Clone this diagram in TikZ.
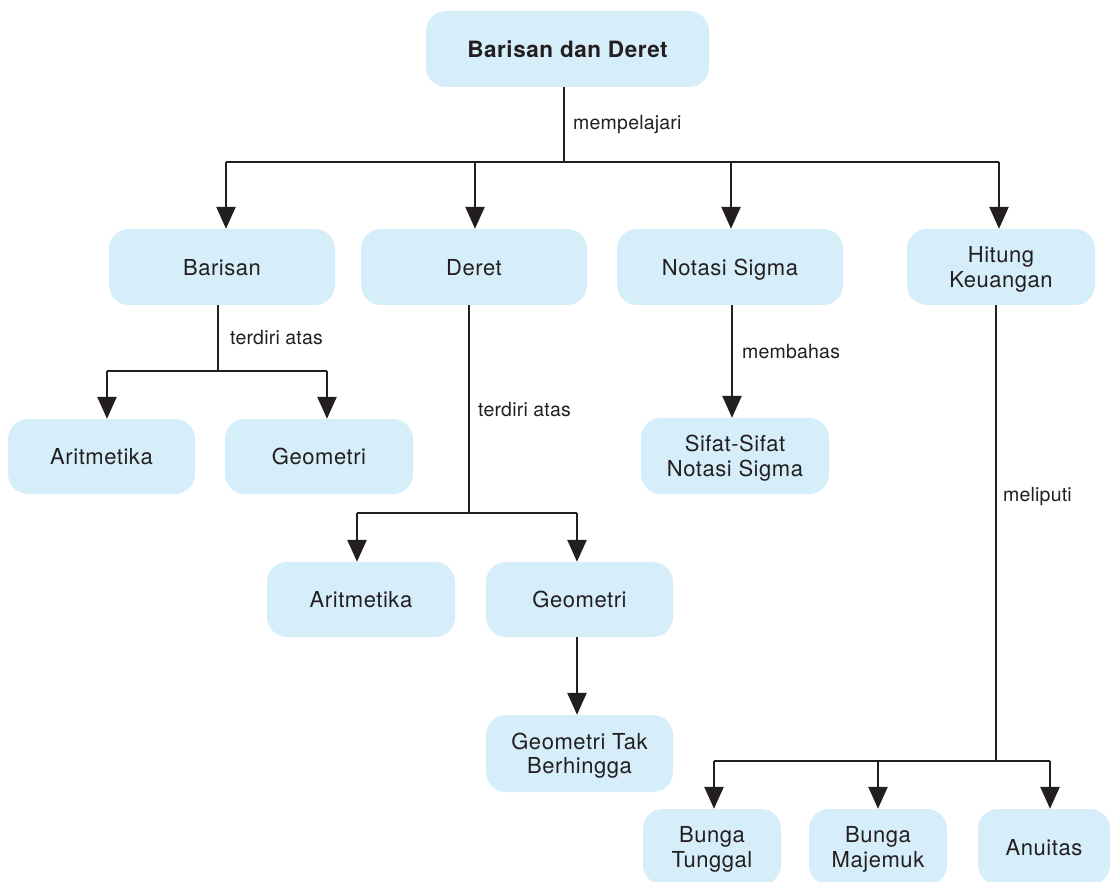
\documentclass[tikz,border=0pt]{standalone}
\usepackage{fontspec}
\setmainfont{TeX Gyre Heros}[LetterSpace=2.5]
\newfontfamily\lblfont{TeX Gyre Heros}[LetterSpace=1]
\usetikzlibrary{arrows.meta}
\definecolor{boxfill}{HTML}{D6EDFA}
\definecolor{ink}{HTML}{231F20}
\tikzset{
  box/.style={fill=boxfill, rounded corners=20pt, draw=none, inner sep=0pt,
    text=ink, align=center, text depth=0pt, font=\fontsize{22}{24.5}\selectfont},
  conn/.style={draw=ink, line width=2.6pt},
  arr/.style={conn, -{Triangle[length=22pt,width=19pt]}},
  lbl/.style={text=ink, anchor=west, inner sep=0pt, font=\lblfont\fontsize{19.5}{23}\selectfont}
}
\begin{document}
\begin{tikzpicture}[x=1pt,y=-1pt]
\useasboundingbox (0,0) rectangle (1111,882);
\clip (0,0) rectangle (1111,882);
% boxes
\node[box, minimum width=283pt, minimum height=76pt, font=\fontsize{22.5}{26}\selectfont\bfseries] (top) at (567.5,49) {Barisan dan Deret};
\node[box, minimum width=226pt, minimum height=76pt] (barisan) at (222,267) {Barisan};
\node[box, minimum width=226pt, minimum height=76pt] (deret) at (474,267) {Deret};
\node[box, minimum width=226pt, minimum height=76pt] (notasi) at (730,267) {Notasi Sigma};
\node[box, minimum width=188pt, minimum height=76pt] (hitung) at (1001,267) {Hitung\\Keuangan};
\node[box, minimum width=187pt, minimum height=75pt] (arit1) at (101.5,456.5) {Aritmetika};
\node[box, minimum width=188pt, minimum height=75pt] (geo1) at (319,456.5) {Geometri};
\node[box, minimum width=188pt, minimum height=76pt] (sifat) at (735,456) {Sifat-Sifat\\Notasi Sigma};
\node[box, minimum width=188pt, minimum height=75pt] (arit2) at (361,599.5) {Aritmetika};
\node[box, minimum width=187pt, minimum height=75pt] (geo2) at (579.5,599.5) {Geometri};
\node[box, minimum width=187pt, minimum height=77pt] (gtb) at (579.5,753.5) {Geometri Tak\\Berhingga};
\node[box, minimum width=138pt, minimum height=76pt] (bt) at (712,847) {Bunga\\Tunggal};
\node[box, minimum width=138pt, minimum height=76pt] (bm) at (878,847) {Bunga\\Majemuk};
\node[box, minimum width=132pt, minimum height=76pt] (anu) at (1044,847) {Anuitas};
% junctions
\coordinate (j0) at (564,162);
\coordinate (j0l) at (226,162);
\coordinate (j0r) at (999,162);
\coordinate (j1) at (218,371);
\coordinate (j1l) at (107,371);
\coordinate (j1r) at (327,371);
\coordinate (j2) at (469,513);
\coordinate (j2l) at (357,513);
\coordinate (j2r) at (577,513);
\coordinate (j3) at (996,761);
\coordinate (j3l) at (714,761);
\coordinate (j3r) at (1050,761);
% connectors
\draw[conn] (top.south -| j0) -- (j0);
\draw[conn] (j0l) -- (j0r);
\draw[arr] (j0l) -- (j0l |- barisan.north);
\draw[arr] (475,162) -- (475,162 |- deret.north);
\draw[arr] (731,162) -- (731,162 |- notasi.north);
\draw[arr] (j0r) -- (j0r |- hitung.north);
\node[lbl] (l0) at (573,125) {mempelajari};

\draw[conn] (barisan.south -| j1) -- (j1);
\draw[conn] (j1l) -- (j1r);
\draw[arr] (j1l) -- (j1l |- arit1.north);
\draw[arr] (j1r) -- (j1r |- geo1.north);
\node[lbl] (l1) at (230,338) {terdiri atas};

\draw[conn] (deret.south -| j2) -- (j2);
\draw[conn] (j2l) -- (j2r);
\draw[arr] (j2l) -- (j2l |- arit2.north);
\draw[arr] (j2r) -- (j2r |- geo2.north);
\node[lbl] (l2) at (478,410) {terdiri atas};

\draw[arr] (geo2.south -| j2r) -- (j2r |- gtb.north);

\draw[arr] (notasi.south -| 732,0) -- (732,0 |- sifat.north);
\node[lbl] (l3) at (742,352) {membahas};

\draw[conn] (hitung.south -| j3) -- (j3);
\draw[conn] (j3l) -- (j3r);
\draw[arr] (j3l) -- (j3l |- bt.north);
\draw[arr] (878,761) -- (878,761 |- bm.north);
\draw[arr] (j3r) -- (j3r |- anu.north);
\node[lbl] (l4) at (1003,497) {meliputi};
\end{tikzpicture}
\end{document}
